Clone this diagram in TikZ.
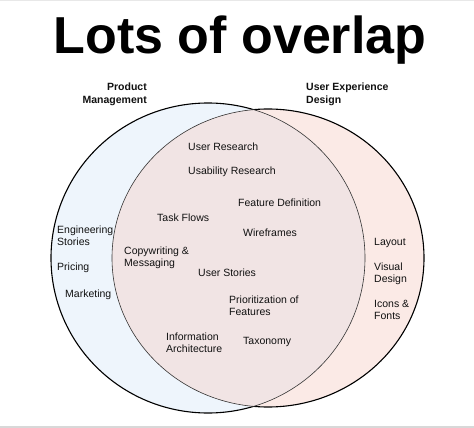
\documentclass[tikz,border=0pt]{standalone}
\usepackage{fontspec}
\setmainfont{Liberation Sans}
\definecolor{vennBlue}{HTML}{EEF5FC}
\definecolor{vennPink}{HTML}{FBEAE6}
\definecolor{vennBoth}{HTML}{F1E4E4}
\definecolor{vennInk}{HTML}{111111}
\definecolor{vennEdge}{HTML}{D8D8D8}
\begin{document}
\begin{tikzpicture}[x=1pt,y=-1pt,line cap=round,line join=round]
\path[use as bounding box,fill=white] (0,0) rectangle (474,428);
\path[fill=vennEdge!60] (0,0) rectangle (474,1);
\path[fill=vennEdge] (0,425.5) rectangle (474,428);
\tikzset{item/.style={anchor=base west,inner sep=0pt,align=left,text=vennInk,font=\fontsize{10.5}{12}\selectfont},
  head/.style={inner sep=0pt,text=vennInk,font=\bfseries\fontsize{10.5}{13}\selectfont},
  outer/.style={draw=black,line width=1.1pt},inner/.style={draw=black!80,line width=0.6pt}}
\def\pmset{(208,258) ellipse [x radius=157,y radius=155]}
\def\uxset{(268,258) ellipse [x radius=156,y radius=149]}
% fills
\path[fill=vennBlue] \pmset; \path[fill=vennPink] \uxset;
\begin{scope} \clip \pmset; \path[fill=vennBoth] \uxset; \end{scope}
% outlines: heavy outside, light inside the other set
\begin{scope}[even odd rule] \clip (-10,-10) rectangle (484,438) \uxset; \draw[outer] \pmset; \end{scope}
\begin{scope}[even odd rule] \clip (-10,-10) rectangle (484,438) \pmset; \draw[outer] \uxset; \end{scope}
\begin{scope} \clip \uxset; \draw[inner] \pmset; \end{scope}
\begin{scope} \clip \pmset; \draw[inner] \uxset; \end{scope}
\node[anchor=base,inner sep=0pt,font=\bfseries\fontsize{52}{52}\selectfont] (title) at (240,54) {Lots of overlap};
% multi-line nodes sit on the baseline of their last line
\node[head,anchor=base east,align=right] (pmhead) at (147,103) {Product\\Management};
\node[head,anchor=base west,align=left] (uxhead) at (306,103) {User Experience\\Design};
% product management only
\node[item] (engstories) at (57,245) {Engineering\\Stories};
\node[item] (pricing) at (57,270) {Pricing};
\node[item] (marketing) at (65,297) {Marketing};
% shared
\node[item] (userres) at (188,150) {User Research};
\node[item] (usabres) at (188,174) {Usability Research};
\node[item] (featdef) at (238,206) {Feature Definition};
\node[item] (taskflows) at (157,221) {Task Flows};
\node[item] (wireframes) at (243,236) {Wireframes};
\node[item] (copywriting) at (124,266) {Copywriting \&\\Messaging};
\node[item] (userstories) at (198,276) {User Stories};
\node[item] (prioritization) at (229,315) {Prioritization of\\Features};
\node[item] (infoarch) at (166,352) {Information\\Architecture};
\node[item] (taxonomy) at (243,344) {Taxonomy};
% design only
\node[item] (layout) at (374,245) {Layout};
\node[item] (visual) at (374,282) {Visual\\Design};
\node[item] (icons) at (374,319) {Icons \&\\Fonts};
\end{tikzpicture}
\end{document}
